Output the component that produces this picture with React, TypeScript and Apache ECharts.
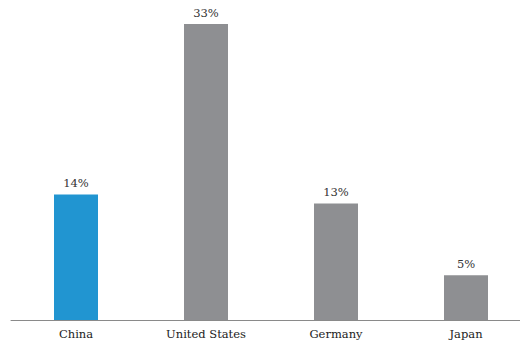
import React, { useEffect, useRef } from "react";
import * as echarts from "echarts";

const categories = ["China", "United States", "Germany", "Japan"];
const values = [14, 33, 13, 5];
const highlightIndex = 0;

const serif = "DejaVu Serif";

export default function App() {
  const ref = useRef<HTMLDivElement>(null);
  useEffect(() => {
    if (!ref.current) return;
    const chart = echarts.init(ref.current, undefined, { renderer: "svg" });
    chart.setOption({
      animation: false,
      textStyle: { fontFamily: serif },
      grid: { left: 11, top: 24, right: 0, bottom: 23, containLabel: false },
      xAxis: {
        type: "category",
        data: categories,
        axisLine: { show: true, lineStyle: { color: "#8a8a8a", width: 1 } },
        axisTick: { show: false },
        axisLabel: {
          color: "#222",
          fontFamily: serif,
          fontSize: 11.5,
          margin: 8,
        },
      },
      yAxis: {
        type: "value",
        min: 0,
        max: 33,
        show: false,
        splitLine: { show: false },
      },
      series: [
        {
          type: "bar",
          barWidth: 44,
          data: values.map((v, i) => ({
            value: v,
            itemStyle: { color: i === highlightIndex ? "#2195d1" : "#8e8f92" },
          })),
          label: {
            show: true,
            position: "top",
            distance: 5,
            formatter: "{c}%",
            color: "#333",
            fontFamily: serif,
            fontSize: 11.5,
          },
        },
      ],
    });
    return () => chart.dispose();
  }, []);
  return (
    <div style={{ width: 520, height: 343, position: "absolute", left: 0, top: 0, overflow: "hidden" }}>
      <div ref={ref} style={{ width: 531, height: 343 }} />
    </div>
  );
}
